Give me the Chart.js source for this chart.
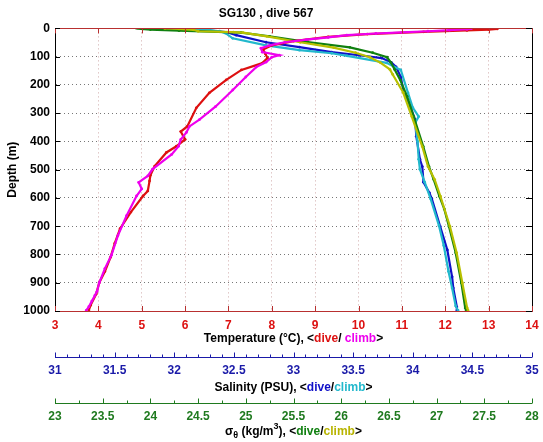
<!DOCTYPE html>
<html>
<head>
<meta charset="utf-8">
<script src="https://cdn.jsdelivr.net/npm/chart.js@4/dist/chart.umd.min.js"></script>
<style>
  body { margin: 0; background: #fff; }
  #wrap { width: 543px; height: 442px; }
</style>
</head>
<body>
<div id="wrap"><canvas id="profile" width="543" height="442"></canvas></div>
<script>
// tick labels
const tempTicks = [3, 4, 5, 6, 7, 8, 9, 10, 11, 12, 13, 14];
const salTicks = [31, 31.5, 32, 32.5, 33, 33.5, 34, 34.5, 35];
const sigTicks = [23, 23.5, 24, 24.5, 25, 25.5, 26, 26.5, 27, 27.5, 28];
const depthTicks = [0, 100, 200, 300, 400, 500, 600, 700, 800, 900, 1000];

// temperature, dive (red) and climb (magenta)
const tDiveDepth = [0, 2, 4, 7, 12, 20, 30, 45, 60, 75, 90, 105, 123, 147, 182, 228, 281, 347, 365, 393, 417, 439, 487, 520, 540, 575, 593, 650, 709, 760, 810, 860, 900, 940, 980, 997];
const tDive = [13.1, 13.2, 13.0, 12.5, 11.5, 10.2, 9.3, 8.5, 8.0, 7.8, 7.85, 7.9, 7.78, 7.3, 6.95, 6.56, 6.26, 6.05, 5.9, 6.0, 5.8, 5.57, 5.3, 5.2, 5.18, 5.14, 5.03, 4.75, 4.5, 4.38, 4.28, 4.15, 4.02, 3.95, 3.82, 3.78];
const tClimbDepth = [998, 985, 965, 945, 930, 900, 850, 803, 733, 663, 593, 568, 545, 522, 498, 446, 417, 393, 368, 347, 323, 277, 218, 172, 137, 119, 102, 95, 84, 70, 60, 49, 40, 32, 24, 18, 14, 10, 6, 3, 1];
const tClimb = [3.72, 3.78, 3.85, 3.92, 3.97, 4.02, 4.15, 4.3, 4.45, 4.65, 4.88, 5.0, 4.93, 5.14, 5.25, 5.69, 5.85, 5.9, 6.03, 6.1, 6.33, 6.7, 7.1, 7.4, 7.64, 7.87, 8.0, 8.17, 7.78, 7.75, 7.95, 8.3, 8.8, 9.3, 9.73, 10.4, 11.0, 11.6, 12.1, 12.5, 12.6];

// salinity, dive (blue) and climb (cyan)
const sDiveDepth = [0, 2, 4, 8, 14, 24, 49, 66, 84, 95, 105, 120, 136, 172, 217, 277, 323, 382, 463, 489, 544, 582, 603, 701, 784, 879, 919, 986, 998];
const sDive = [31.85, 31.9, 32.1, 32.3, 32.45, 32.52, 32.77, 33.05, 33.32, 33.55, 33.74, 33.82, 33.86, 33.9, 33.92, 33.98, 34.02, 34.03, 34.06, 34.08, 34.09, 34.14, 34.16, 34.23, 34.29, 34.33, 34.34, 34.37, 34.37];
const sClimbDepth = [0, 2, 5, 10, 17, 35, 60, 77, 88, 97, 122, 147, 228, 280, 312, 335, 400, 463, 498, 544, 603, 698, 768, 860, 919, 982, 998];
const sClimb = [32.0, 32.2, 32.28, 32.38, 32.43, 32.49, 32.77, 33.05, 33.32, 33.45, 33.78, 33.9, 33.96, 34.0, 34.05, 34.02, 34.04, 34.05, 34.06, 34.1, 34.15, 34.22, 34.26, 34.3, 34.33, 34.36, 34.38];

// sigma-theta, dive (green) and climb (olive)
const gDiveDepth = [0, 2, 4, 8, 15, 28, 48, 67, 86, 102, 120, 145, 183, 241, 312, 418, 489, 535, 594, 639, 701, 794, 901, 989, 998];
const gDive = [23.95, 23.92, 24.0, 24.3, 24.95, 25.25, 25.65, 26.09, 26.33, 26.48, 26.52, 26.56, 26.62, 26.69, 26.76, 26.86, 26.92, 26.97, 27.03, 27.08, 27.13, 27.2, 27.26, 27.3, 27.31];
const gClimbDepth = [0, 2, 5, 10, 13, 15, 28, 49, 68, 86, 102, 121, 145, 163, 227, 312, 418, 489, 535, 594, 701, 794, 901, 989, 998];
const gClimb = [24.15, 24.3, 24.45, 24.5, 24.87, 24.97, 25.22, 25.57, 25.92, 26.15, 26.3, 26.41, 26.51, 26.54, 26.65, 26.74, 26.85, 26.91, 26.98, 27.04, 27.14, 27.21, 27.27, 27.32, 27.33];

const FONT = "'Liberation Sans', Arial, sans-serif";
const frameRed = '#b83030';
const tempColor = '#dd1111';
const salColor = '#1a1aa8';
const sigColor = '#1f7a1f';

function pts(depths, vals) {
  return depths.map((d, i) => ({ x: vals[i], y: d }));
}

function profile(label, depths, vals, axis, color) {
  return {
    label: label,
    data: pts(depths, vals),
    xAxisID: axis,
    yAxisID: 'y',
    showLine: true,
    borderColor: color,
    backgroundColor: color,
    borderWidth: 2.2,
    pointRadius: 1.4,
    pointBorderWidth: 0,
    tension: 0
  };
}

function fixedTicks(list) {
  return function (scale) {
    scale.ticks = list.map(v => ({ value: v }));
  };
}

// fixed box height, and no extra side padding for end labels
function bottomBox(h) {
  return function (s) {
    s.height = h;
    s.paddingLeft = 0;
    s.paddingRight = 0;
  };
}

const plainLabel = v => String(v);

// draws a line of coloured text pieces centred on cx
function drawPieces(ctx, pieces, cx, y) {
  let total = 0;
  pieces.forEach(p => {
    ctx.font = p.font;
    p.w = ctx.measureText(p.t).width;
    total += p.w;
  });
  let x = cx - total / 2;
  ctx.textAlign = 'left';
  ctx.textBaseline = 'middle';
  pieces.forEach(p => {
    ctx.font = p.font;
    ctx.fillStyle = p.c;
    ctx.fillText(p.t, x, y + (p.dy || 0));
    x += p.w;
  });
}

function drawExtraAxis(ctx, scale, majors, step, color, area) {
  const y = Math.round(scale.top) + 0.5;
  ctx.strokeStyle = color;
  ctx.lineWidth = 1;
  ctx.beginPath();
  ctx.moveTo(area.left, y);
  ctx.lineTo(area.right, y);
  const n = Math.round((scale.max - scale.min) / step);
  for (let i = 0; i <= n; i++) {
    const v = scale.min + i * step;
    const isMajor = majors.some(m => Math.abs(m - v) < 1e-6);
    const x = Math.round(scale.getPixelForValue(v)) + 0.5;
    ctx.moveTo(x, y);
    ctx.lineTo(x, y - (isMajor ? 5 : 3));
  }
  ctx.stroke();
}

const decor = {
  id: 'decor',
  afterDraw(chart) {
    const ctx = chart.ctx;
    const a = chart.chartArea;
    const s = chart.scales;
    ctx.save();
    ctx.lineWidth = 1;

    // top and right side of the frame
    ctx.strokeStyle = frameRed;
    ctx.beginPath();
    ctx.moveTo(a.left, Math.round(a.top) + 0.5);
    ctx.lineTo(a.right, Math.round(a.top) + 0.5);
    ctx.stroke();
    ctx.strokeStyle = '#000';
    ctx.beginPath();
    ctx.moveTo(Math.round(a.right) + 0.5, a.top);
    ctx.lineTo(Math.round(a.right) + 0.5, a.bottom);
    ctx.stroke();

    // inward ticks
    ctx.strokeStyle = frameRed;
    ctx.beginPath();
    tempTicks.forEach(v => {
      const x = Math.round(s.xT.getPixelForValue(v)) + 0.5;
      ctx.moveTo(x, a.top); ctx.lineTo(x, a.top + 5);
      ctx.moveTo(x, a.bottom); ctx.lineTo(x, a.bottom - 5);
    });
    ctx.stroke();
    ctx.strokeStyle = '#000';
    ctx.beginPath();
    depthTicks.forEach(v => {
      const y = Math.round(s.y.getPixelForValue(v)) + 0.5;
      ctx.moveTo(a.left, y); ctx.lineTo(a.left + 5, y);
      ctx.moveTo(a.right, y); ctx.lineTo(a.right - 6, y);
    });
    ctx.stroke();

    drawExtraAxis(ctx, s.xS, salTicks, 0.1, salColor, a);
    drawExtraAxis(ctx, s.xG, sigTicks, 0.25, sigColor, a);

    const cx = (a.left + a.right) / 2;
    const b = 'bold 12px ' + FONT;
    const small = 'bold 9px ' + FONT;
    drawPieces(ctx, [
      { t: 'Temperature (°C), <', c: '#000', font: b },
      { t: 'dive', c: tempColor, font: b },
      { t: '/ ', c: '#000', font: b },
      { t: 'climb', c: '#ee00ee', font: b },
      { t: '>', c: '#000', font: b }
    ], cx, s.xT.top + 28);
    drawPieces(ctx, [
      { t: 'Salinity (PSU), <', c: '#000', font: b },
      { t: 'dive', c: '#1010c8', font: b },
      { t: '/', c: '#000', font: b },
      { t: 'climb', c: '#22b8cc', font: b },
      { t: '>', c: '#000', font: b }
    ], cx, s.xS.top + 31);
    drawPieces(ctx, [
      { t: 'σ', c: '#000', font: b },
      { t: 'θ', c: '#000', font: small, dy: 4 },
      { t: ' (kg/m', c: '#000', font: b },
      { t: '3', c: '#000', font: small, dy: -5 },
      { t: '), <', c: '#000', font: b },
      { t: 'dive', c: '#108010', font: b },
      { t: '/', c: '#000', font: b },
      { t: 'climb', c: '#b8b400', font: b },
      { t: '>', c: '#000', font: b }
    ], cx, s.xG.top + 29);
    ctx.restore();
  }
};

const tickFont = { family: FONT, size: 12, weight: 'bold' };

new Chart(document.getElementById('profile'), {
  type: 'scatter',
  data: {
    datasets: [
      profile('T climb', tClimbDepth, tClimb, 'xT', '#ee00ee'),
      profile('T dive', tDiveDepth, tDive, 'xT', '#dd1010'),
      profile('sigma climb', gClimbDepth, gClimb, 'xG', '#b8c000'),
      profile('sigma dive', gDiveDepth, gDive, 'xG', '#108010'),
      profile('S climb', sClimbDepth, sClimb, 'xS', '#22b8cc'),
      profile('S dive', sDiveDepth, sDive, 'xS', '#1010c8')
    ]
  },
  options: {
    responsive: false,
    animation: false,
    layout: { padding: { left: 0, right: 11, top: 0, bottom: 0 } },
    plugins: {
      legend: { display: false },
      tooltip: { enabled: false },
      title: {
        display: true,
        text: 'SG130 , dive 567',
        color: '#000',
        font: { family: FONT, size: 12, weight: 'bold' },
        padding: { top: 6, bottom: 8 }
      }
    },
    scales: {
      y: {
        type: 'linear',
        position: 'left',
        reverse: true,
        min: 0,
        max: 1000,
        afterBuildTicks: fixedTicks(depthTicks),
        afterFit: s => { s.width = 55; s.paddingTop = 0; s.paddingBottom = 0; },
        grid: { color: '#777', drawTicks: false },
        border: { color: '#000', dash: [1, 3] },
        ticks: { color: '#000', font: tickFont, padding: 5, callback: plainLabel },
        title: { display: true, text: 'Depth (m)', color: '#000', font: tickFont, padding: { top: 5, bottom: 0 } }
      },
      xT: {
        type: 'linear',
        position: 'bottom',
        weight: 0,
        min: 3,
        max: 14,
        afterBuildTicks: fixedTicks(tempTicks),
        afterFit: bottomBox(46),
        grid: { color: '#d0aaaa', drawTicks: false },
        border: { color: frameRed, dash: [1, 3] },
        ticks: { color: tempColor, font: tickFont, padding: 7, maxRotation: 0, autoSkip: false, callback: plainLabel }
      },
      xS: {
        type: 'linear',
        position: 'bottom',
        weight: 1,
        min: 31,
        max: 35,
        afterBuildTicks: fixedTicks(salTicks),
        afterFit: bottomBox(46),
        grid: { display: false, drawTicks: false },
        border: { display: false },
        ticks: { color: salColor, font: tickFont, padding: 6, maxRotation: 0, autoSkip: false, callback: plainLabel }
      },
      xG: {
        type: 'linear',
        position: 'bottom',
        weight: 2,
        min: 23,
        max: 28,
        afterBuildTicks: fixedTicks(sigTicks),
        afterFit: bottomBox(39),
        grid: { display: false, drawTicks: false },
        border: { display: false },
        ticks: { color: sigColor, font: tickFont, padding: 6, maxRotation: 0, autoSkip: false, callback: plainLabel }
      }
    }
  },
  plugins: [decor]
});
</script>
</body>
</html>
